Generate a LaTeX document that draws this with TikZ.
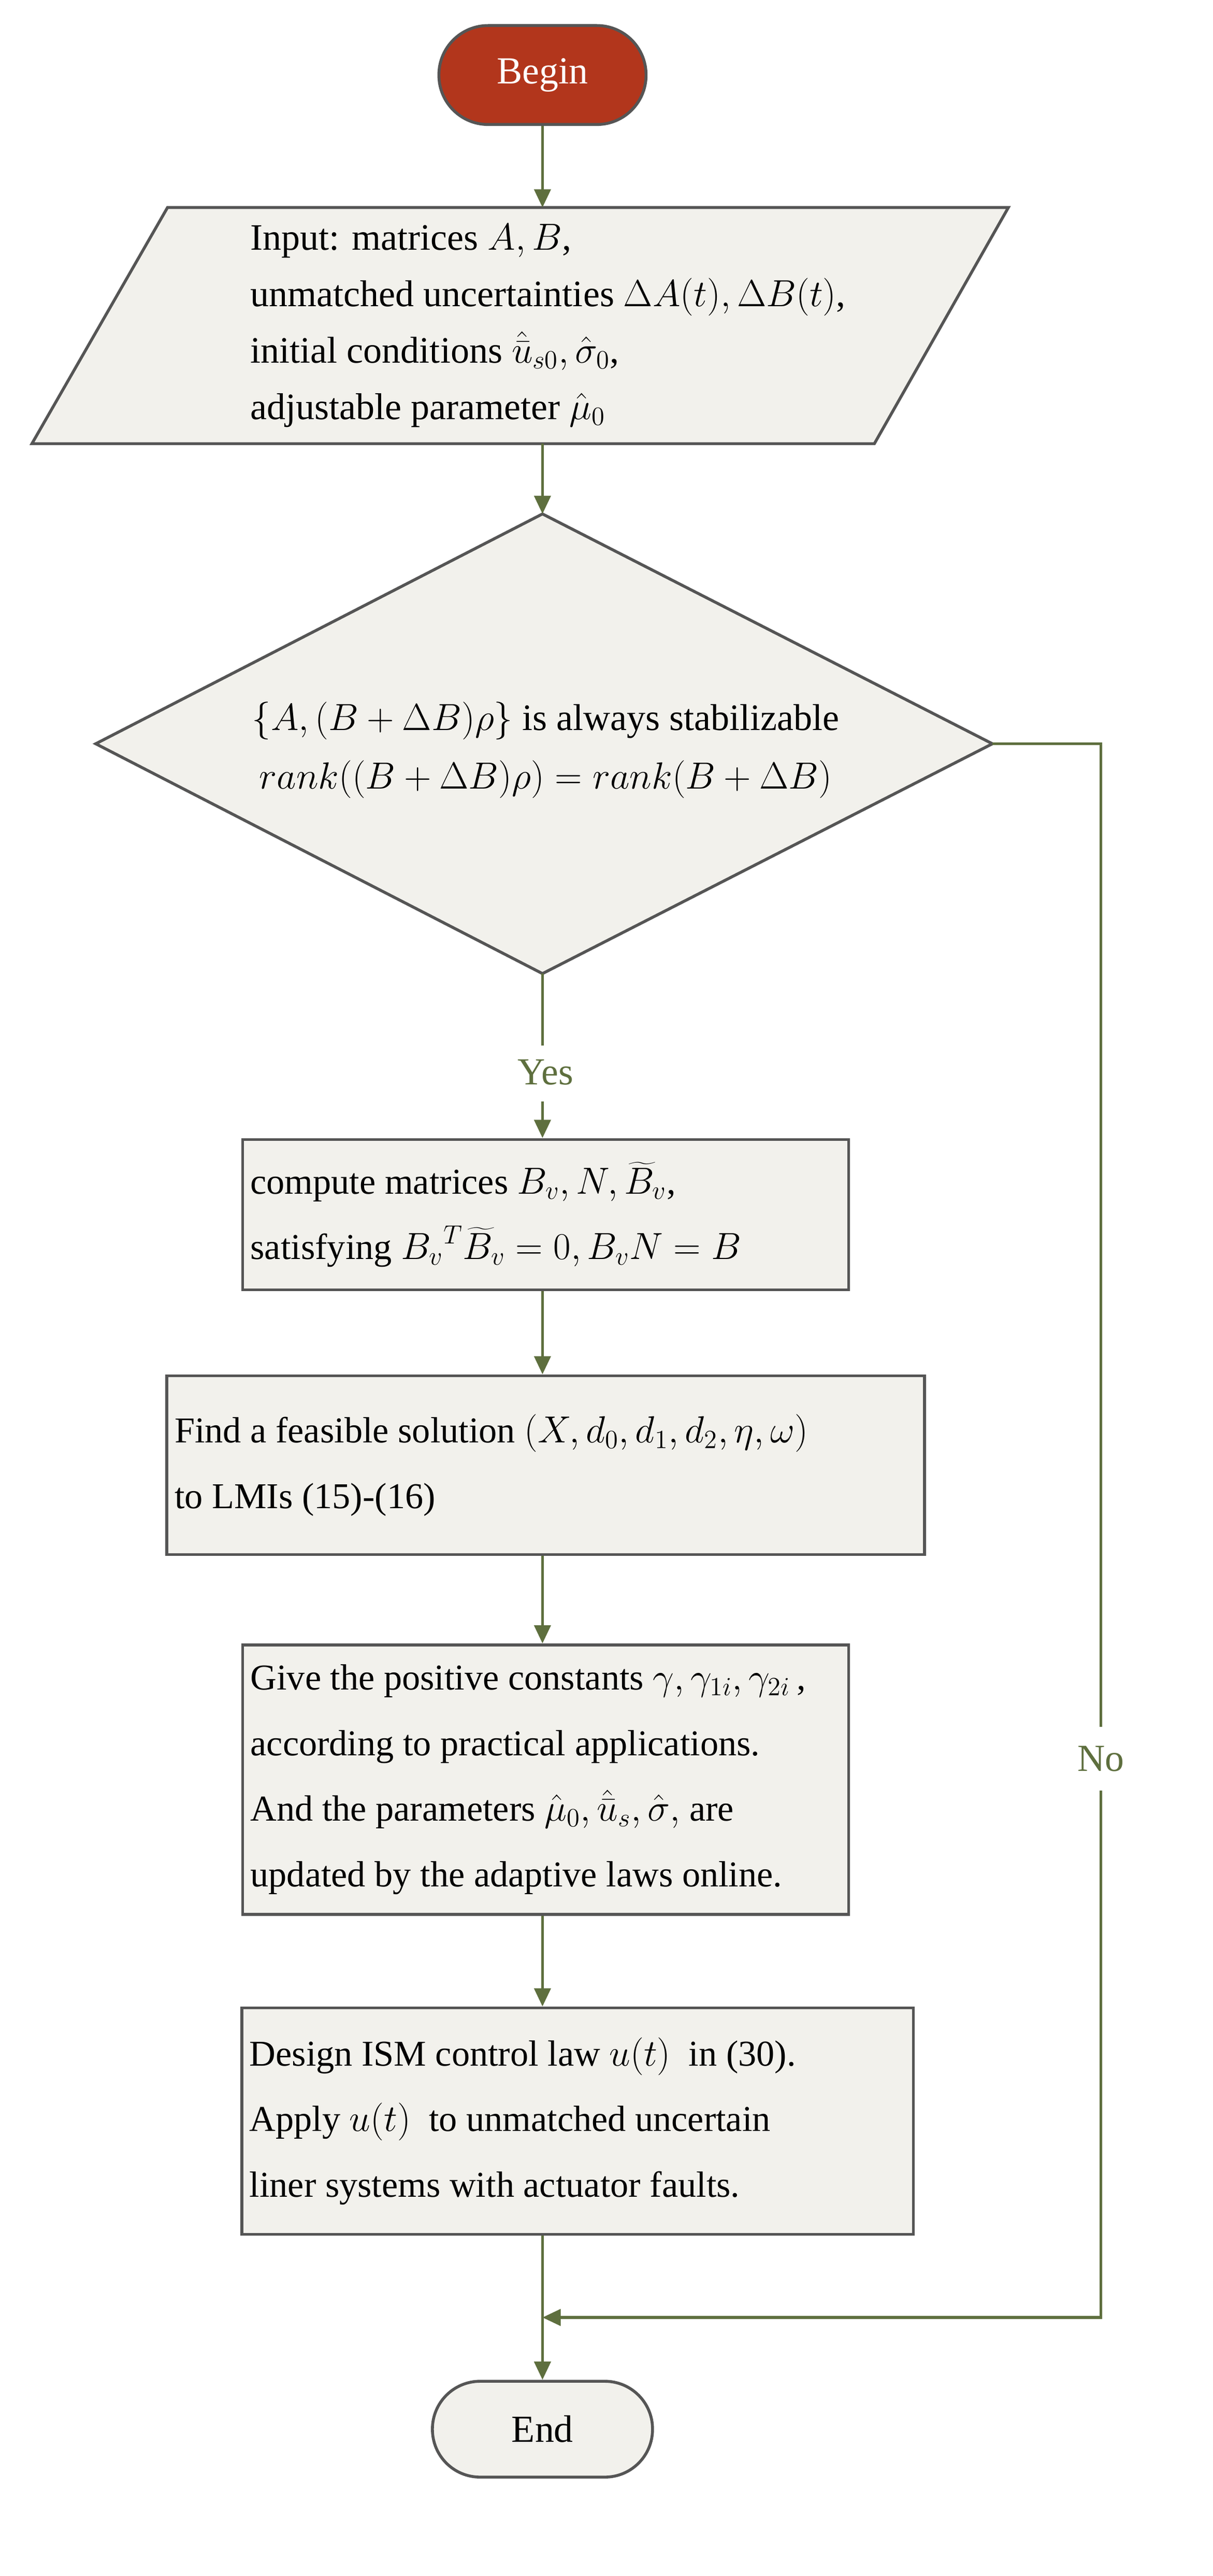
\documentclass[tikz,border=0pt]{standalone}
\usepackage{fontspec}
\setmainfont{Liberation Serif}
\usetikzlibrary{arrows.meta}
\definecolor{lnk}{HTML}{5E6F3E}
\definecolor{bx}{HTML}{F2F1EC}
\definecolor{bd}{HTML}{555555}
\definecolor{rd}{HTML}{B2361C}
\begin{document}
\begin{tikzpicture}[x=0.0308cm,y=-0.0308cm,
  box/.style={draw=bd,line width=1.6pt,fill=bx,inner xsep=0.15cm,inner ysep=0pt},
  txt/.style={font=\fontsize{20}{36}\selectfont,align=flush left},
  arr/.style={draw=lnk,line width=1.6pt,-{Triangle[length=10pt,width=9pt]}},
  lab/.style={text=lnk,font=\fontsize{21}{24}\selectfont}]
\useasboundingbox (0,0) rectangle (760,1614);
\node[draw=bd,line width=1.6pt,fill=rd,rounded corners=0.95cm,minimum width=4cm,minimum height=1.91cm,text=white,font=\fontsize{21}{24}\selectfont] (begin) at (340,47) {Begin};
\coordinate (ptop) at (340,130); \coordinate (pbot) at (340,278);
\draw[box] (105,130) -- (632,130) -- (548,278) -- (20,278) -- cycle;
\node[txt,anchor=west,font=\fontsize{20.5}{31}\selectfont] (inp) at (153,204) {Input: matrices $A,B$,\\unmatched uncertainties $\Delta A(t),\Delta B(t)$,\\initial conditions $\hat{\bar{u}}_{s0},\hat{\sigma}_0$,\\adjustable parameter $\hat{\mu}_0$};
\coordinate (dtop) at (340,322); \coordinate (dbot) at (340,610); \coordinate (dright) at (622,466);
\draw[box] (dtop) -- (dright) -- (dbot) -- (60,466) -- cycle;
\node[txt,align=center,font=\fontsize{20.5}{32}\selectfont] (cond) at (342,470) {$\{A,(B+\Delta B)\rho\}$ is always stabilizable\\$rank((B+\Delta B)\rho)=rank(B+\Delta B)$};
\node[box,txt,minimum width=11.7cm,minimum height=2.9cm,text width=11.4cm] (b1) at (342,761) {compute matrices $B_v,N,\widetilde{B}_v$,\\satisfying ${B_v}^T\widetilde{B}_v=0,B_vN=B$};
\node[box,txt,minimum width=14.63cm,minimum height=3.45cm,text width=14.33cm] (b2) at (342,918) {Find a feasible solution $(X,d_0,d_1,d_2,\eta,\omega)$\\to LMIs (15)-(16)};
\node[box,txt,minimum width=11.7cm,minimum height=5.2cm,text width=11.4cm] (b3) at (342,1115) {Give the positive constants $\gamma,\gamma_{1i},\gamma_{2i}$\,,\\according to practical applications.\\And the parameters $\hat{\mu}_0,\hat{\bar{u}}_s,\hat{\sigma},$ are\\updated by the adaptive laws online.};
\node[box,txt,minimum width=12.97cm,minimum height=4.37cm,text width=12.67cm] (b4) at (362,1329) {Design ISM control law $u(t)$ \ in (30).\\Apply $u(t)$ \ to unmatched uncertain\\liner systems with actuator faults.};
\node[draw=bd,line width=1.6pt,fill=bx,rounded corners=0.92cm,minimum width=4.25cm,minimum height=1.85cm,font=\fontsize{21}{24}\selectfont] (end) at (340,1522) {End};
\coordinate (ej) at (340,1452);
\coordinate (nr) at (690,466); \coordinate (nb) at (690,1452);
\draw[arr] (begin) -- (ptop);
\draw[arr] (pbot) -- (dtop);
\draw[draw=lnk,line width=1.6pt] (dbot) -- (340,655);
\node[lab] (yes) at (342,672) {Yes};
\draw[arr] (340,690) -- (b1.north -| 340,0);
\draw[arr] (b1.south -| 340,0) -- (b2.north -| 340,0);
\draw[arr] (b2.south -| 340,0) -- (b3.north -| 340,0);
\draw[arr] (b3.south -| 340,0) -- (b4.north -| 340,0);
\draw[arr] (b4.south -| 340,0) -- (end);
\draw[draw=lnk,line width=1.6pt] (dright) -- (nr) -- (690,1082);
\node[lab] (no) at (690,1102) {No};
\draw[arr] (690,1122) -- (nb) -- (ej);
\end{tikzpicture}
\end{document}
